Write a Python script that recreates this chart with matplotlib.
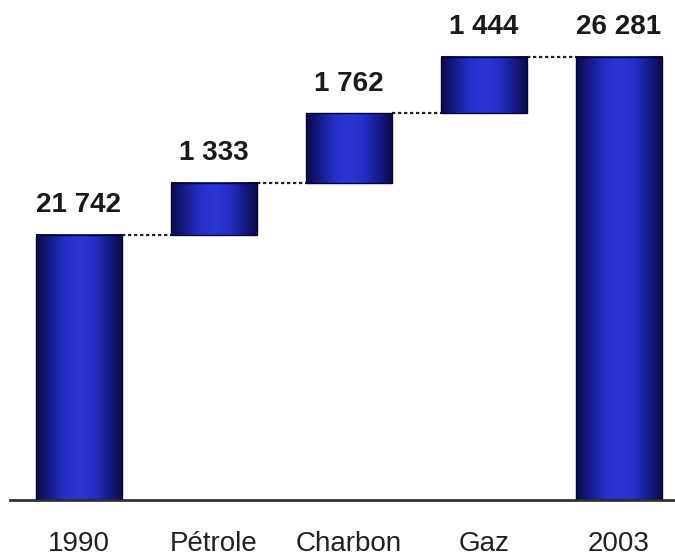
import numpy as np
import matplotlib
matplotlib.use("Agg")
import matplotlib.pyplot as plt
from matplotlib.colors import LinearSegmentedColormap
from matplotlib.patches import Rectangle

# Waterfall: 1990 total, contributions per fuel, 2003 total
categories = ["1990", "Pétrole", "Charbon", "Gaz", "2003"]
start_total = 21742
contributions = [1333, 1762, 1444]
end_total = 26281
value_labels = ["21 742", "1 333", "1 762", "1 444", "26 281"]

plt.rcParams["font.family"] = ["Liberation Sans", "DejaVu Sans"]

fig = plt.figure(figsize=(6.75, 5.58), dpi=100)
ax = fig.add_axes([10 / 675, 58 / 558, 665 / 675, 500 / 558])

y_min, y_max = 15000, 27720
ax.set_ylim(y_min, y_max)
ax.set_xlim(-0.511, 4.415)

cmap = LinearSegmentedColormap.from_list(
    "barshade",
    ["#0a0a48", "#161c8c", "#2530c8", "#2b36d6", "#2530c8", "#161c8c", "#0a0a48"],
)
grad = np.linspace(0, 1, 256).reshape(1, -1)

# bottoms / tops of each bar
bottoms = [y_min]
tops = [start_total]
running = start_total
for c in contributions:
    bottoms.append(running)
    running += c
    tops.append(running)
bottoms.append(y_min)
tops.append(end_total)

width = 0.64
x = np.arange(len(categories))
for xi, b, t in zip(x, bottoms, tops):
    x0, x1 = xi - width / 2, xi + width / 2
    ax.imshow(grad, cmap=cmap, extent=(x0, x1, b, t), aspect="auto",
              interpolation="bicubic", zorder=2)
    ax.add_patch(Rectangle((x0, b), width, t - b, fill=False,
                           edgecolor="#06062e", lw=1.0, zorder=3))

# dotted connectors between consecutive bars
for i in range(len(categories) - 1):
    level = tops[i]
    ax.plot([x[i] + width / 2, x[i + 1] - width / 2], [level, level],
            color="#222222", lw=1.6, linestyle=(0, (1.5, 1.2)), zorder=1)

# value labels above bars
for xi, t, lab in zip(x, tops, value_labels):
    ax.annotate(lab, (xi, t), xytext=(0, 12), textcoords="offset points",
                ha="center", va="bottom", fontsize=20, fontweight="bold",
                color="#1a1a1a")

ax.set_xticks(x)
ax.set_xticklabels(categories, fontsize=20, color="#222222")
ax.tick_params(axis="x", length=0, pad=22)
ax.set_yticks([])
for s in ["top", "right", "left"]:
    ax.spines[s].set_visible(False)
ax.spines["bottom"].set_color("#333333")
ax.spines["bottom"].set_linewidth(2)
ax.patch.set_alpha(0)

fig.savefig("out.png", dpi=100)
